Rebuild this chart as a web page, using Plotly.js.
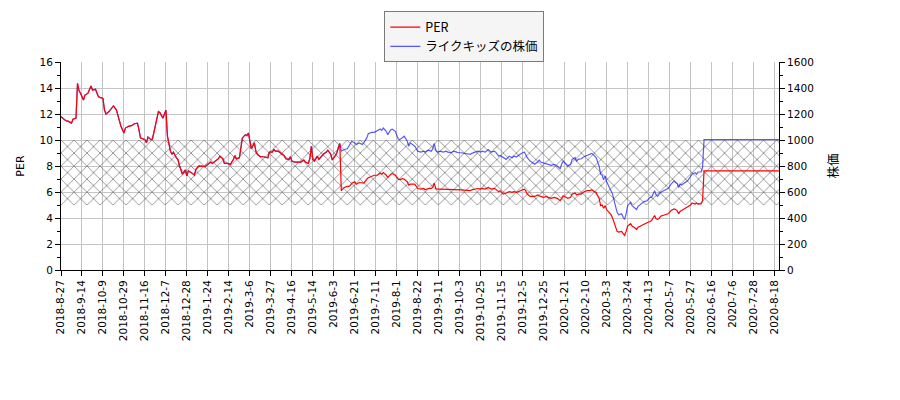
<!DOCTYPE html>
<html>
<head>
<meta charset="utf-8">
<script src="https://cdn.plot.ly/plotly-3.0.1.min.js"></script>
<style>
  html, body { margin: 0; padding: 0; background: #fff; }
  #graphDiv { width: 900px; height: 400px; }
</style>
</head>
<body>
<div id="graphDiv"></div>
<script>
// x axis: one step per trading day, a labelled tick every 14 days
const tickLabels = ['2018-8-27', '2018-9-14', '2018-10-9', '2018-10-29', '2018-11-16', '2018-12-7',
    '2018-12-28', '2019-1-24', '2019-2-14', '2019-3-6', '2019-3-27', '2019-4-16', '2019-5-14',
    '2019-6-3', '2019-6-21', '2019-7-11', '2019-8-1', '2019-8-22', '2019-9-11', '2019-10-3',
    '2019-10-25', '2019-11-15', '2019-12-5', '2019-12-25', '2020-1-21', '2020-2-10', '2020-3-3',
    '2020-3-24', '2020-4-13', '2020-5-7', '2020-5-27', '2020-6-16', '2020-7-6', '2020-7-28',
    '2020-8-18'];
const tickStep = 14;
const lastDay = 479;

// trading-day index of each read point
const day = [
    0, 3, 5, 7, 8, 10, 11, 12, 13, 15, 16, 18, 20, 21, 23, 25, 26, 28, 29, 30,
    32, 34, 35, 37, 38, 40, 42, 43, 45, 47, 49, 51, 52, 53, 56, 57, 58, 60, 61, 63,
    65, 66, 68, 69, 70, 71, 73, 74, 75, 77, 78, 79, 80, 81, 83, 84, 85, 87, 89, 90,
    92, 94, 96, 98, 100, 101, 103, 105, 106, 108, 109, 111, 113, 115, 116, 117, 119, 120, 121, 123,
    124, 125, 126, 127, 129, 130, 131, 133, 135, 137, 138, 139, 141, 142, 143, 145, 147, 149, 150, 152,
    153, 154, 156, 158, 160, 162, 163, 165, 166, 167, 168, 169, 171, 172, 174, 175, 177, 178, 180, 181,
    183, 184, 185, 186,
    187, 189, 191, 192, 193, 194, 196, 197, 199, 201, 202, 204, 205, 207, 209, 211, 213, 214, 215, 217,
    218, 220, 221, 223, 225, 226, 228, 229, 231, 232, 233, 235, 236, 238, 240, 242, 243, 245, 247, 248,
    249, 250, 251, 253, 255, 257, 258, 260, 262, 264, 265, 267, 269, 271, 273, 274, 276, 278, 280, 281,
    283, 285, 287, 289, 290, 292, 293, 295, 297, 299, 301, 302, 304, 306, 308, 309, 310, 311, 313, 315,
    316, 318, 319, 320, 322, 324, 325, 327, 329, 331, 333, 334, 335, 337, 338, 340, 341, 343, 344, 345,
    347, 349, 351, 353, 354, 355, 357, 358, 359, 360, 361, 362, 363, 364, 365, 367, 368, 369, 371, 372,
    374, 375, 376, 377, 378, 380, 381, 383, 384, 385, 387, 389, 391, 393, 394, 396, 397, 398, 399, 400,
    402, 404, 405, 407, 409, 410, 411, 412, 413, 414, 416, 418, 420, 421, 423, 424, 425, 427, 428, 429,
    479
];

const per = [
    11.8, 11.5, 11.43, 11.3, 11.6, 11.68, 14.35, 13.8, 13.6, 13.08, 13.46, 13.6, 14.15, 13.84, 13.9, 13.33, 13.28, 13.2, 12.3, 12.0,
    12.19, 12.52, 12.62, 12.3, 11.86, 11.05, 10.54, 10.92, 11.05, 11.1, 11.25, 11.3, 10.8, 10.16, 10.03, 9.78, 10.23, 10.03, 10.08, 11.05,
    12.19, 12.1, 11.68, 12.0, 12.3, 10.3, 9.14, 8.9, 9.07, 8.63, 8.5, 8.05, 7.62, 7.37, 7.7, 7.24, 7.62, 7.49, 7.29, 7.75,
    8.0, 7.95, 7.95, 8.13, 8.3, 8.2, 8.38, 8.56, 8.76, 8.56, 8.2, 8.2, 8.13, 8.5, 8.8, 8.56, 8.63, 9.27, 10.16, 10.41,
    10.34, 10.54, 9.9, 9.32, 9.78, 9.14, 8.9, 8.71, 8.71, 8.63, 8.63, 9.07, 9.07, 9.27, 9.14, 9.14, 8.97, 8.76, 8.56, 8.5,
    8.71, 8.38, 8.3, 8.3, 8.3, 8.46, 8.3, 8.2, 8.56, 9.52, 8.5, 8.38, 8.76, 8.5, 8.76, 8.9, 9.07, 9.22, 8.9, 8.46,
    8.8, 9.0, 9.4, 9.73,
    6.1, 6.35, 6.43, 6.43, 6.5, 6.68, 6.78, 6.6, 6.73, 6.68, 6.68, 6.98, 7.1, 7.19, 7.29, 7.29, 7.44, 7.37, 7.49, 7.29,
    7.11, 7.37, 7.42, 7.3, 6.98, 6.95, 7.03, 6.98, 6.78, 6.53, 6.6, 6.6, 6.6, 6.27, 6.22, 6.27, 6.17, 6.27, 6.27, 6.35,
    6.68, 6.27, 6.22, 6.22, 6.22, 6.22, 6.17, 6.22, 6.22, 6.22, 6.22, 6.17, 6.15, 6.1, 6.1, 6.17, 6.22, 6.27, 6.22, 6.27,
    6.22, 6.35, 6.22, 6.27, 6.22, 6.02, 6.1, 5.84, 5.92, 6.02, 5.97, 6.02, 5.97, 6.1, 6.17, 6.22, 6.1, 5.84, 5.66, 5.66,
    5.66, 5.77, 5.74, 5.66, 5.59, 5.66, 5.59, 5.51, 5.59, 5.51, 5.33, 5.59, 5.71, 5.59, 5.51, 5.59, 5.84, 5.92, 5.77, 5.84,
    5.84, 6.02, 6.1, 6.1, 6.17, 6.1, 5.97, 5.71, 5.51, 4.95, 5.0, 4.75, 4.95, 4.65, 4.5, 4.24, 3.99, 3.63, 2.97, 2.92,
    2.97, 2.79, 2.67, 2.97, 3.38, 3.56, 3.38, 3.23, 3.12, 3.3, 3.43, 3.56, 3.63, 3.73, 3.81, 4.19, 3.94, 3.89, 3.95, 4.14,
    4.19, 4.24, 4.32, 4.57, 4.7, 4.65, 4.57, 4.32, 4.5, 4.57, 4.7, 4.83, 5.0, 5.16, 5.08, 5.16, 5.08, 5.08, 5.33, 7.62,
    7.62
];

const price = [
    1180, 1150, 1143, 1130, 1160, 1168, 1435, 1380, 1360, 1308, 1346, 1360, 1415, 1384, 1390, 1333, 1328, 1320, 1230, 1200,
    1219, 1252, 1262, 1230, 1186, 1105, 1054, 1092, 1105, 1110, 1125, 1130, 1080, 1016, 1003, 978, 1023, 1003, 1008, 1105,
    1219, 1210, 1168, 1200, 1230, 1030, 914, 890, 907, 863, 850, 805, 762, 737, 770, 724, 762, 749, 729, 775,
    800, 795, 795, 813, 830, 820, 838, 856, 876, 856, 820, 820, 813, 850, 880, 856, 863, 927, 1016, 1041,
    1034, 1054, 990, 932, 978, 914, 890, 871, 871, 863, 863, 907, 907, 927, 914, 914, 897, 876, 856, 850,
    871, 838, 830, 830, 830, 846, 830, 820, 856, 952, 850, 838, 876, 850, 876, 890, 907, 922, 890, 846,
    880, 900, 940, 973,
    914, 927, 932, 952, 965, 990, 978, 965, 978, 965, 978, 1016, 1049, 1059, 1059, 1074, 1084, 1074, 1092, 1067,
    1041, 1079, 1084, 1067, 1008, 1003, 1016, 1029, 990, 952, 978, 965, 952, 914, 907, 914, 907, 922, 914, 932,
    973, 922, 907, 914, 907, 914, 907, 902, 914, 907, 902, 902, 897, 889, 889, 897, 907, 914, 907, 914,
    907, 927, 907, 914, 907, 876, 881, 864, 851, 876, 864, 876, 871, 889, 897, 907, 889, 864, 838, 820,
    813, 830, 846, 830, 825, 820, 813, 805, 813, 800, 780, 813, 838, 813, 800, 813, 851, 864, 838, 851,
    856, 871, 881, 889, 897, 889, 864, 830, 800, 737, 729, 693, 724, 678, 653, 610, 584, 533, 444, 424,
    432, 406, 389, 432, 495, 521, 495, 475, 465, 490, 508, 526, 533, 559, 559, 610, 577, 566, 584, 597,
    610, 622, 627, 660, 686, 673, 668, 635, 660, 653, 668, 686, 719, 737, 749, 737, 754, 754, 787, 1003,
    1003
];

// hatched reference band, in price units (PER 5 to 10)
const bandRange = [500, 1000];

function init() {
    let graphDiv = document.getElementById('graphDiv');
    let font = 'DejaVu Sans, Noto Sans CJK JP, sans-serif';
    let jpFont = 'Noto Sans CJK JP, DejaVu Sans, sans-serif';

    let tickVals = tickLabels.map((t, k) => k * tickStep);

    let data = [
        {   // band bottom edge
            x: [0, lastDay], y: [bandRange[0], bandRange[0]],
            yaxis: 'y', type: 'scatter', mode: 'lines',
            line: {width: 0, color: 'rgba(0,0,0,0)'},
            showlegend: false, hoverinfo: 'skip'
        },
        {   // band top edge, filled down with cross hatch
            x: [0, lastDay], y: [bandRange[1], bandRange[1]],
            yaxis: 'y', type: 'scatter', mode: 'lines',
            line: {width: 0, color: 'rgba(0,0,0,0)'},
            fill: 'tonexty', fillcolor: 'rgba(0,0,0,0)',
            fillpattern: {shape: 'x', fgcolor: '#7c7c7c', bgcolor: 'rgba(0,0,0,0)',
                          size: 9.2, solidity: 0.16, fillmode: 'replace'},
            showlegend: false, hoverinfo: 'skip'
        },
        {
            name: 'ライクキッズの株価',
            x: day, y: price,
            yaxis: 'y', type: 'scatter', mode: 'lines',
            line: {color: 'rgba(0,0,255,0.65)', width: 1.2},
            legendrank: 2
        },
        {
            name: 'PER',
            x: day, y: per,
            yaxis: 'y2', type: 'scatter', mode: 'lines',
            line: {color: '#ff0000', width: 1.2},
            legendrank: 1
        }
    ];

    let layout = {
        width: 900, height: 400,
        margin: {l: 60.5, r: 121, t: 60, b: 130},
        paper_bgcolor: '#ffffff', plot_bgcolor: '#ffffff',
        font: {family: font, size: 10.5, color: '#000'},
        showlegend: true,
        legend: {
            x: 0.4503, y: 1.243, xanchor: 'left', yanchor: 'top',
            bgcolor: '#f5f5f5', bordercolor: '#7a7a7a', borderwidth: 1,
            font: {family: jpFont, size: 12.5, color: '#000'},
            traceorder: 'normal', tracegroupgap: 0, itemwidth: 30
        },
        xaxis: {
            type: 'linear', range: [0, lastDay],
            tickmode: 'array', tickvals: tickVals, ticktext: tickLabels,
            tickangle: -90, ticks: 'outside', ticklen: 5, tickcolor: '#000',
            showline: true, linecolor: '#000', linewidth: 1,
            showgrid: true, gridcolor: '#c4c4c4', gridwidth: 1,
            zeroline: false, fixedrange: true
        },
        yaxis: {   // price, right side
            side: 'right', range: [0, 1600], dtick: 200,
            ticks: 'outside', ticklen: 5, tickcolor: '#000',
            showline: true, linecolor: '#000', linewidth: 1,
            showgrid: true, gridcolor: '#c4c4c4', gridwidth: 1,
            zeroline: false,
            minor: {dtick: 100, ticks: 'outside', ticklen: 3, tickcolor: '#000', showgrid: false},
            title: {text: '株価', font: {family: jpFont, size: 12.5}, standoff: 16}
        },
        yaxis2: {  // PER, left side
            overlaying: 'y', side: 'left', range: [0, 16], dtick: 2,
            ticks: 'outside', ticklen: 5, tickcolor: '#000',
            showline: true, linecolor: '#000', linewidth: 1,
            showgrid: false, zeroline: false,
            minor: {dtick: 1, ticks: 'outside', ticklen: 3, tickcolor: '#000', showgrid: false},
            title: {text: 'PER', font: {family: font, size: 11}, standoff: 12}
        }
    };

    Plotly.newPlot(graphDiv, data, layout, {staticPlot: true});
}

init();
</script>
</body>
</html>
